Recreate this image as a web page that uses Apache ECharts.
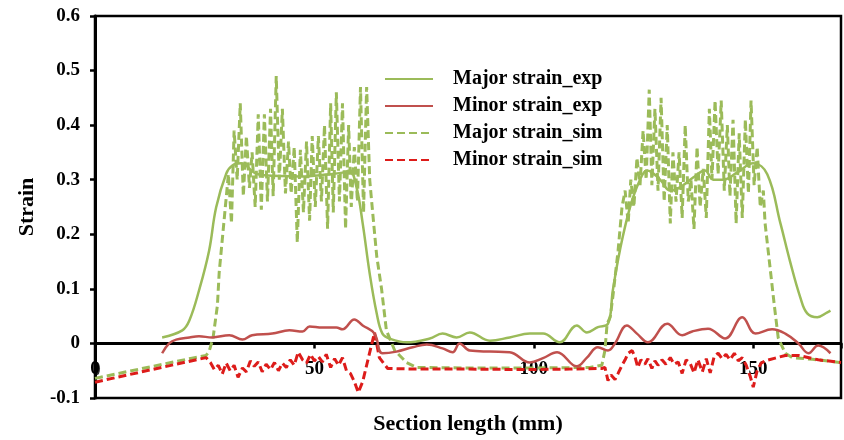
<!DOCTYPE html>
<html>
<head>
<meta charset="utf-8">
<script src="https://cdn.jsdelivr.net/npm/echarts@6/dist/echarts.min.js"></script>
<style>
  html, body { margin: 0; padding: 0; background: #fff; }
  #chart { width: 844px; height: 440px; }
</style>
</head>
<body>
<div id="chart"></div>
<script>
// Strain profiles along the section: measured (exp) vs simulated (sim)
const seriesNames = ['Major strain_exp', 'Minor strain_exp', 'Major strain_sim', 'Minor strain_sim'];
const xTicks = [0, 50, 100, 150];
const yTickLabels = ['-0.1', '0', '0.1', '0.2', '0.3', '0.4', '0.5', '0.6'];

// [section length (mm), strain]
const majorStrainExp = [
  [15.3, 0.011], [19.9, 0.024], [21.5, 0.042], [23.7, 0.097], [26.0, 0.170], [27.6, 0.249],
  [29.9, 0.311], [31.3, 0.326], [33.3, 0.330], [36.3, 0.313], [38.6, 0.308], [46.6, 0.306],
  [53.4, 0.310], [56.4, 0.313], [58.0, 0.317], [59.6, 0.286], [61.0, 0.220], [62.6, 0.128],
  [64.2, 0.055], [65.5, 0.018], [67.1, 0.009], [71.0, 0.002], [76.3, 0.009], [79.2, 0.018],
  [82.4, 0.011], [85.4, 0.020], [90.0, 0.005], [94.5, 0.011], [99.1, 0.018], [102.1, 0.018],
  [105.9, 0.002], [109.8, 0.033], [112.1, 0.020], [114.6, 0.030], [116.9, 0.036], [118.0, 0.097],
  [119.6, 0.170], [121.9, 0.249], [124.2, 0.300], [125.8, 0.317], [128.8, 0.300], [131.1, 0.280],
  [133.3, 0.286], [136.3, 0.304], [139.0, 0.317], [140.9, 0.300], [143.2, 0.300], [146.3, 0.313],
  [150.0, 0.330], [153.2, 0.310], [156.2, 0.220], [158.4, 0.150], [160.7, 0.085], [162.3, 0.055],
  [164.6, 0.048], [166.9, 0.057], [167.6, 0.060]
];

const minorStrainExp = [
  [15.3, -0.018], [16.9, 0.000], [18.5, 0.007], [21.5, 0.011], [23.7, 0.013], [26.7, 0.011],
  [30.6, 0.015], [33.6, 0.007], [35.8, 0.015], [40.4, 0.018], [44.3, 0.024], [47.3, 0.022],
  [48.9, 0.031], [51.8, 0.029], [55.0, 0.029], [56.4, 0.026], [59.1, 0.044], [61.0, 0.033],
  [63.7, 0.018], [65.5, -0.018], [68.7, -0.015], [72.4, -0.007], [75.6, -0.002], [79.2, -0.009],
  [81.5, -0.016], [83.1, 0.000], [85.4, -0.013], [90.0, -0.015], [94.5, -0.016], [99.1, -0.035],
  [102.1, -0.027], [105.3, -0.016], [109.8, -0.042], [112.1, -0.026], [114.6, -0.007], [116.9, -0.013],
  [118.5, 0.000], [121.2, 0.033], [123.5, 0.018], [126.0, 0.002], [130.4, 0.036], [133.8, 0.015],
  [136.1, 0.022], [139.7, 0.027], [143.6, 0.009], [147.5, 0.048], [150.5, 0.018], [154.3, 0.026],
  [157.3, 0.018], [160.3, 0.000], [162.6, -0.018], [164.8, -0.004], [167.6, -0.018]
];

const majorStrainSim = [
  [0.0, -0.064], [22.1, -0.027], [25.3, -0.022], [26.0, -0.015], [26.9, 0.010], [27.9, 0.070],
  [28.3, 0.130], [29.0, 0.190],
  [29.7, 0.25], [30.4, 0.31], [31.1, 0.22], [31.7, 0.39], [32.4, 0.30], [33.1, 0.44], [33.8, 0.27],
  [34.5, 0.38], [35.2, 0.285], [35.8, 0.35], [36.5, 0.25], [37.2, 0.42], [37.9, 0.245], [38.6, 0.42],
  [39.3, 0.26], [40.0, 0.43], [40.6, 0.27], [41.3, 0.49], [42.0, 0.30], [42.7, 0.43], [43.4, 0.275],
  [44.1, 0.37], [44.7, 0.275], [45.4, 0.36], [46.1, 0.185], [46.8, 0.355], [47.5, 0.24], [48.2, 0.37],
  [48.9, 0.225], [49.5, 0.38], [50.2, 0.25], [50.9, 0.38], [51.6, 0.26], [52.3, 0.40], [53.0, 0.21],
  [53.7, 0.44], [54.3, 0.24], [55.0, 0.46], [55.7, 0.26], [56.4, 0.44], [57.1, 0.21], [57.8, 0.40],
  [58.4, 0.25], [59.1, 0.36], [59.8, 0.26], [60.5, 0.47], [61.2, 0.24], [61.9, 0.47], [62.6, 0.30],
  [63.5, 0.22], [64.2, 0.16], [65.3, 0.10], [66.4, 0.024], [68.3, -0.013], [71.0, -0.035],
  [73.3, -0.044], [85.0, -0.045], [100.0, -0.045], [112.8, -0.044], [115.5, -0.040],
  [116.2, -0.013], [116.7, 0.036], [117.4, 0.048], [118.0, 0.085], [119.2, 0.170], [120.1, 0.250],
  [120.8, 0.28], [121.5, 0.22], [122.1, 0.30], [122.8, 0.25], [123.5, 0.34], [124.2, 0.29], [124.9, 0.39],
  [125.6, 0.30], [126.3, 0.465], [126.9, 0.29], [127.6, 0.43], [128.3, 0.28], [129.0, 0.45], [129.7, 0.26],
  [130.4, 0.40], [131.1, 0.22], [131.7, 0.35], [132.4, 0.26], [133.1, 0.35], [133.8, 0.23], [134.5, 0.40],
  [135.2, 0.26], [135.8, 0.30], [136.5, 0.21], [137.2, 0.36], [137.9, 0.25], [138.6, 0.32], [139.3, 0.23],
  [140.0, 0.43], [140.6, 0.30], [141.3, 0.445], [142.0, 0.31], [142.7, 0.445], [143.4, 0.28], [144.1, 0.40],
  [144.7, 0.27], [145.4, 0.41], [146.1, 0.22], [146.8, 0.385], [147.5, 0.23], [148.2, 0.41], [148.9, 0.275],
  [149.5, 0.445], [150.2, 0.29], [150.9, 0.36], [151.6, 0.25], [152.3, 0.28],
  [152.7, 0.22], [153.4, 0.17], [154.1, 0.12], [154.8, 0.07], [155.7, 0.010], [157.3, -0.018],
  [158.9, -0.026], [163.5, -0.029], [170.0, -0.035]
];

const minorStrainSim = [
  [0.0, -0.071], [25.3, -0.026], [26.3, -0.035], [27.2, -0.048], [28.1, -0.040], [29.0, -0.056],
  [29.9, -0.036], [30.8, -0.050], [31.7, -0.040], [32.6, -0.062], [33.6, -0.045], [34.5, -0.052],
  [35.4, -0.032], [36.3, -0.042], [37.2, -0.034], [38.1, -0.052], [39.0, -0.038], [40.0, -0.048],
  [40.9, -0.035], [41.8, -0.050], [42.7, -0.036], [43.6, -0.044], [44.5, -0.030], [45.4, -0.040],
  [46.3, -0.016], [47.3, -0.030], [48.2, -0.036], [49.1, -0.020], [50.0, -0.032], [50.9, -0.024],
  [51.8, -0.034], [52.7, -0.020], [53.7, -0.044], [54.6, -0.028], [55.5, -0.040], [56.4, -0.026],
  [57.3, -0.050], [58.2, -0.055], [59.1, -0.070], [60.0, -0.090], [61.0, -0.070], [61.9, -0.040],
  [62.8, -0.010], [63.7, 0.020], [64.8, -0.026], [66.7, -0.046], [74.0, -0.047], [85.4, -0.047],
  [99.1, -0.048], [108.2, -0.047], [115.5, -0.046],
  [116.2, -0.044], [116.9, -0.068], [117.6, -0.058], [118.5, -0.066], [119.2, -0.055], [120.1, -0.040],
  [120.8, -0.030], [121.5, -0.018], [122.4, -0.013], [123.1, -0.026], [123.7, -0.044], [124.4, -0.030],
  [125.3, -0.038], [126.0, -0.028], [126.9, -0.046], [127.6, -0.032], [128.3, -0.040], [129.2, -0.030],
  [130.1, -0.038], [131.1, -0.026], [132.0, -0.038], [132.9, -0.034], [133.8, -0.055], [134.7, -0.030],
  [135.6, -0.036], [136.5, -0.054], [137.4, -0.030], [138.4, -0.052], [139.3, -0.028], [140.2, -0.054],
  [141.1, -0.024], [142.0, -0.018], [142.9, -0.028], [143.8, -0.020], [144.7, -0.030], [145.7, -0.018],
  [146.6, -0.032], [147.5, -0.026], [148.4, -0.040], [149.3, -0.060], [150.0, -0.080], [150.9, -0.050],
  [151.8, -0.036], [152.7, -0.032], [155.0, -0.027], [157.3, -0.022], [160.3, -0.022], [164.8, -0.030],
  [170.0, -0.035]
];

// small black marker sitting on the left axis
const originMarker = [[0.46, -0.046]];

const FONT = '"Liberation Serif", "Times New Roman", serif';
const GREEN = '#9BBB59';
const RED_EXP = '#C0504D';
const RED_SIM = '#DD1C1A';

// plot box geometry (px)
const GRID = { left: 95, right: 3, top: 16, bottom: 42 };
const Y_MIN = -0.1, Y_MAX = 0.6;
const plotHeight = 440 - GRID.top - GRID.bottom;
// lift the horizontal axis from the box bottom up to strain = 0
const zeroLift = plotHeight * (0 - Y_MIN) / (Y_MAX - Y_MIN);

const chart = echarts.init(document.getElementById('chart'), null, { renderer: 'canvas' });

function lineSeries(name, data, color, dashed, width, smooth) {
  return {
    name: name,
    type: 'line',
    data: data,
    symbol: 'none',
    smooth: smooth,
    lineStyle: { color: color, width: width, type: dashed ? [8, 4] : 'solid' },
    itemStyle: { color: color, opacity: 0 },
    emphasis: { disabled: true },
    z: 3
  };
}

chart.setOption({
  animation: false,
  backgroundColor: '#fff',
  grid: {
    left: GRID.left, right: GRID.right, top: GRID.top, bottom: GRID.bottom,
    containLabel: false,
    outerBoundsMode: 'none',
    show: true, borderColor: '#000', borderWidth: 2.5, backgroundColor: 'transparent'
  },
  legend: {
    data: seriesNames,
    orient: 'vertical',
    left: 379,
    top: 64,
    itemWidth: 48,
    itemHeight: 14,
    itemGap: 7,
    itemStyle: { opacity: 0 },
    textStyle: {
      fontFamily: FONT, fontSize: 20, fontWeight: 'bold', color: '#000',
      padding: [10, 0, 0, 15]
    }
  },
  xAxis: {
    type: 'value',
    min: 0, max: 170, interval: 50,
    offset: -zeroLift,
    axisLine: { show: true, onZero: false, lineStyle: { color: '#000', width: 3 } },
    axisTick: { show: true, length: 5, lineStyle: { color: '#000', width: 2.5 } },
    axisLabel: {
      margin: 16, fontFamily: FONT, fontSize: 19, fontWeight: 'bold', color: '#000',
      showMinLabel: true, hideOverlap: false,
      formatter: function (v) { return xTicks.indexOf(v) >= 0 ? String(v) : ''; }
    },
    splitLine: { show: false },
    name: 'Section length (mm)',
    nameLocation: 'middle',
    nameGap: 70,
    nameTextStyle: { fontFamily: FONT, fontSize: 22, fontWeight: 'bold', color: '#000' }
  },
  yAxis: {
    type: 'value',
    min: Y_MIN, max: Y_MAX, interval: 0.1,
    axisLine: { show: true, onZero: false, lineStyle: { color: '#000', width: 3 } },
    axisTick: { show: true, length: 5, lineStyle: { color: '#000', width: 2.5 } },
    axisLabel: {
      margin: 15, fontFamily: FONT, fontSize: 19, fontWeight: 'bold', color: '#000',
      formatter: function (v) { return yTickLabels[Math.round(v * 10) + 1]; }
    },
    splitLine: { show: false },
    name: 'Strain',
    nameLocation: 'middle',
    nameGap: 57,
    nameRotate: 90,
    nameTextStyle: { fontFamily: FONT, fontSize: 22, fontWeight: 'bold', color: '#000' }
  },
  series: [
    lineSeries(seriesNames[2], majorStrainSim, GREEN, true, 3, false),
    lineSeries(seriesNames[3], minorStrainSim, RED_SIM, true, 3, false),
    lineSeries(seriesNames[0], majorStrainExp, GREEN, false, 2.5, 0.4),
    lineSeries(seriesNames[1], minorStrainExp, RED_EXP, false, 2.5, 0.4),
    {
      type: 'scatter',
      data: originMarker,
      symbol: 'circle',
      symbolSize: [6, 13],
      itemStyle: { color: '#000' },
      silent: true,
      z: 5
    }
  ]
});
</script>
</body>
</html>
